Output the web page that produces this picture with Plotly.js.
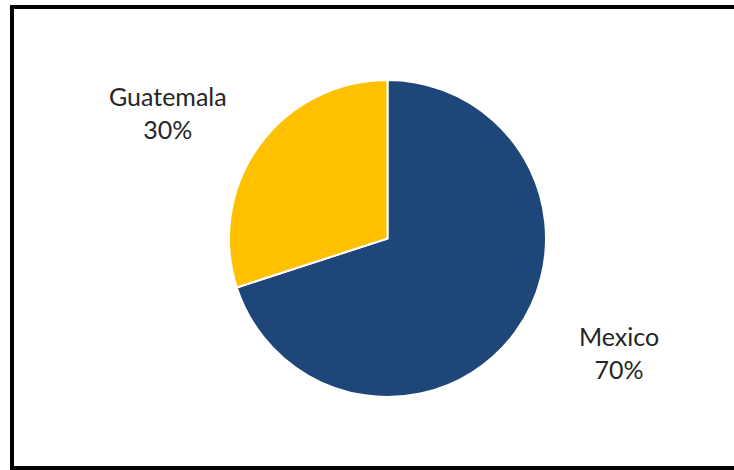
<!DOCTYPE html>
<html>
<head>
<meta charset="utf-8">
<script src="https://cdn.plot.ly/plotly-3.0.1.min.js"></script>
<style>html,body{margin:0;padding:0;background:#fff;}#chart{width:734px;height:470px;}</style>
</head>
<body>
<div id="chart"></div>
<script>
const countries = ["Mexico", "Guatemala"];
const shares = [70, 30];
const sliceColors = ["#1F4678", "#FFC000"];

const W = 734, H = 470;
const labelPos = {Mexico: [619, 352], Guatemala: [168, 113]};

const annotations = countries.map((c, i) => ({
  xref: "paper", yref: "paper",
  x: labelPos[c][0] / W, y: 1 - labelPos[c][1] / H,
  xanchor: "center", yanchor: "middle",
  text: c + "<br>" + shares[i] + "%",
  showarrow: false,
  font: {family: "Lato, 'Open Sans', sans-serif", size: 25, color: "#262626"}
}));

const trace = {
  type: "pie",
  labels: countries,
  values: shares,
  sort: false,
  direction: "clockwise",
  rotation: 0,
  textinfo: "none",
  hoverinfo: "label+percent",
  marker: {colors: sliceColors, line: {color: "#ffffff", width: 2}},
  domain: {x: [229 / W, 546 / W], y: [1 - 397 / H, 1 - 80 / H]},
  showlegend: false
};

const borderLine = {color: "#000000", width: 4};
const layout = {
  width: W, height: H,
  margin: {l: 0, r: 0, t: 0, b: 0},
  paper_bgcolor: "#ffffff",
  showlegend: false,
  annotations: annotations,
  shapes: [
    {type: "line", xref: "paper", yref: "paper", x0: 10 / W, x1: 1.01, y0: 1 - 7 / H, y1: 1 - 7 / H, line: borderLine},
    {type: "line", xref: "paper", yref: "paper", x0: 12 / W, x1: 12 / W, y0: 1 - 5 / H, y1: -0.01, line: borderLine},
    {type: "line", xref: "paper", yref: "paper", x0: 10 / W, x1: 1.01, y0: 1 - 468 / H, y1: 1 - 468 / H, line: borderLine}
  ]
};

Plotly.newPlot("chart", [trace], layout, {displayModeBar: false, staticPlot: true});
</script>
</body>
</html>
